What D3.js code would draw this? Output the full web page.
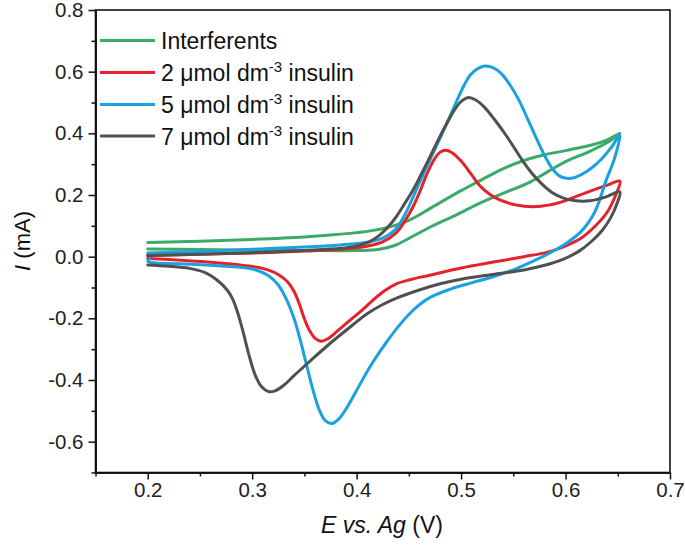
<!DOCTYPE html>
<html><head><meta charset="utf-8">
<script src="https://cdn.jsdelivr.net/npm/d3@7"></script>
<style>body{margin:0;background:#fff}svg{display:block}text{font-family:"Liberation Sans",Arial,sans-serif}</style>
</head><body>
<script>
// ---- data ----
const seriesNames = ["Interferents", "2 μmol dm-3 insulin", "5 μmol dm-3 insulin", "7 μmol dm-3 insulin"];
const seriesColors = ["#3bab6a", "#e3222b", "#1aa2e0", "#505050"];

const interferents = [
 [0.200,0.046],[0.250,0.050],[0.300,0.056],[0.350,0.064],[0.375,0.070],[0.400,0.078],[0.425,0.091],[0.450,0.118],[0.472,0.160],[0.500,0.214],[0.520,0.250],[0.540,0.285],[0.560,0.312],[0.578,0.329],[0.600,0.344],[0.625,0.362],[0.640,0.379],[0.652,0.400],
 [0.640,0.370],[0.620,0.337],[0.603,0.313],[0.585,0.280],[0.566,0.242],[0.540,0.205],[0.518,0.174],[0.495,0.135],[0.471,0.097],[0.452,0.063],[0.437,0.037],[0.422,0.024],[0.400,0.020],[0.350,0.020],[0.300,0.021],[0.250,0.023],[0.200,0.025]
];
const insulin2 = [
 [0.200,0.004],[0.250,0.008],[0.300,0.012],[0.350,0.018],[0.385,0.024],[0.410,0.034],[0.425,0.048],[0.438,0.078],[0.447,0.120],[0.454,0.162],[0.461,0.215],[0.467,0.266],[0.474,0.314],[0.480,0.339],[0.485,0.345],[0.491,0.338],[0.500,0.310],[0.510,0.266],[0.518,0.230],[0.527,0.203],[0.537,0.184],[0.552,0.168],[0.569,0.162],[0.585,0.168],[0.600,0.182],[0.623,0.212],[0.640,0.232],[0.652,0.245],
 [0.648,0.200],[0.640,0.145],[0.628,0.098],[0.614,0.058],[0.598,0.032],[0.582,0.014],[0.560,0.000],[0.534,-0.016],[0.500,-0.037],[0.470,-0.060],[0.452,-0.074],[0.438,-0.088],[0.427,-0.110],[0.416,-0.140],[0.405,-0.174],[0.394,-0.205],[0.382,-0.240],[0.372,-0.267],[0.366,-0.274],[0.360,-0.264],[0.355,-0.240],[0.350,-0.202],[0.345,-0.152],[0.340,-0.112],[0.334,-0.082],[0.326,-0.060],[0.315,-0.043],[0.300,-0.032],[0.260,-0.018],[0.220,-0.009],[0.200,-0.006]
];
const insulin5 = [
 [0.200,0.012],[0.250,0.017],[0.300,0.024],[0.350,0.031],[0.384,0.038],[0.410,0.047],[0.425,0.060],[0.437,0.088],[0.446,0.135],[0.454,0.193],[0.462,0.254],[0.470,0.313],[0.479,0.378],[0.488,0.445],[0.496,0.506],[0.503,0.557],[0.509,0.590],[0.516,0.610],[0.523,0.618],[0.531,0.612],[0.539,0.592],[0.547,0.556],[0.555,0.510],[0.563,0.452],[0.571,0.392],[0.579,0.334],[0.587,0.287],[0.594,0.262],[0.601,0.254],[0.608,0.256],[0.615,0.266],[0.624,0.285],[0.634,0.315],[0.644,0.355],[0.652,0.395],
 [0.647,0.320],[0.639,0.249],[0.628,0.145],[0.615,0.082],[0.600,0.042],[0.585,0.012],[0.570,-0.013],[0.550,-0.043],[0.530,-0.066],[0.510,-0.085],[0.490,-0.105],[0.470,-0.133],[0.456,-0.168],[0.442,-0.218],[0.428,-0.280],[0.415,-0.345],[0.403,-0.415],[0.392,-0.482],[0.383,-0.526],[0.376,-0.541],[0.370,-0.532],[0.364,-0.495],[0.358,-0.430],[0.352,-0.350],[0.346,-0.270],[0.340,-0.200],[0.333,-0.140],[0.325,-0.092],[0.315,-0.060],[0.300,-0.040],[0.270,-0.030],[0.230,-0.023],[0.206,-0.020],[0.200,-0.015],[0.202,-0.007]
];
const insulin7 = [
 [0.200,0.004],[0.250,0.008],[0.300,0.013],[0.350,0.020],[0.385,0.027],[0.400,0.035],[0.412,0.048],[0.422,0.070],[0.430,0.096],[0.438,0.130],[0.446,0.172],[0.454,0.216],[0.462,0.268],[0.470,0.322],[0.478,0.378],[0.486,0.430],[0.494,0.478],[0.501,0.506],[0.507,0.516],[0.514,0.508],[0.522,0.486],[0.532,0.445],[0.544,0.389],[0.552,0.347],[0.560,0.306],[0.568,0.270],[0.577,0.237],[0.587,0.208],[0.598,0.190],[0.610,0.181],[0.623,0.181],[0.638,0.193],[0.652,0.210],
 [0.649,0.170],[0.643,0.125],[0.635,0.085],[0.625,0.050],[0.613,0.018],[0.598,-0.008],[0.580,-0.028],[0.560,-0.043],[0.530,-0.058],[0.500,-0.073],[0.480,-0.088],[0.460,-0.108],[0.440,-0.132],[0.425,-0.155],[0.410,-0.185],[0.395,-0.225],[0.375,-0.280],[0.355,-0.340],[0.340,-0.386],[0.330,-0.418],[0.322,-0.435],[0.316,-0.438],[0.309,-0.422],[0.303,-0.385],[0.297,-0.320],[0.291,-0.240],[0.286,-0.180],[0.281,-0.135],[0.276,-0.108],[0.266,-0.075],[0.255,-0.052],[0.240,-0.038],[0.220,-0.031],[0.200,-0.027]
];
const allSeries = [interferents, insulin2, insulin5, insulin7];

const xMajorTicks = [0.2, 0.3, 0.4, 0.5, 0.6, 0.7];
const xMinorTicks = [0.15, 0.25, 0.35, 0.45, 0.55, 0.65];
const yMajorTicks = [-0.6, -0.4, -0.2, 0.0, 0.2, 0.4, 0.6, 0.8];
const yMinorTicks = [-0.7, -0.5, -0.3, -0.1, 0.1, 0.3, 0.5, 0.7];

// ---- layout ----
const W = 685, H = 548;
const L = 95.5, R = 670, T = 10, B = 472.5;
const svg = d3.select("body").append("svg").attr("width", W).attr("height", H);
const x = d3.scaleLinear().domain([0.15, 0.7]).range([L, R]);
const y = d3.scaleLinear().domain([-0.7, 0.8]).range([B, T]);

// frame
svg.append("rect").attr("x", L).attr("y", T).attr("width", R - L).attr("height", B - T)
  .attr("fill", "none").attr("stroke", "#111").attr("stroke-width", 1.6);

const fmt = v => d3.format(".1f")(v).replace("−", "-");

// x axis
const gx = svg.append("g").attr("transform", `translate(0,${B})`)
  .call(d3.axisBottom(x).tickValues(xMajorTicks).tickFormat(fmt).tickSize(7).tickSizeOuter(0));
svg.append("g").attr("transform", `translate(0,${B})`)
  .call(d3.axisBottom(x).tickValues(xMinorTicks).tickFormat("").tickSize(4).tickSizeOuter(0));
// y axis
const gy = svg.append("g").attr("transform", `translate(${L},0)`)
  .call(d3.axisLeft(y).tickValues(yMajorTicks).tickFormat(fmt).tickSize(7).tickSizeOuter(0));
svg.append("g").attr("transform", `translate(${L},0)`)
  .call(d3.axisLeft(y).tickValues(yMinorTicks).tickFormat("").tickSize(4).tickSizeOuter(0));

svg.selectAll(".domain").attr("stroke", "#111").attr("stroke-width", 1.6);
svg.selectAll(".tick line").attr("stroke", "#111").attr("stroke-width", 1.5);
gx.selectAll(".tick text").attr("font-size", 20.5).attr("fill", "#222").attr("y", 10).attr("dy", "0.71em");
gy.selectAll(".tick text").attr("font-size", 20.5).attr("fill", "#222").attr("x", -12);

// curves
const line = d3.line().x(d => x(d[0])).y(d => y(d[1])).curve(d3.curveCatmullRom.alpha(0.5));
allSeries.forEach((s, i) => {
  svg.append("path").attr("d", line(s)).attr("fill", "none")
    .attr("stroke", seriesColors[i]).attr("stroke-width", 3)
    .attr("stroke-linejoin", "round").attr("stroke-linecap", "round");
});

// legend
const legY = [40.5, 72.5, 104.5, 136];
seriesNames.forEach((n, i) => {
  const g = svg.append("g");
  g.append("line").attr("x1", 100).attr("x2", 155).attr("y1", legY[i]).attr("y2", legY[i])
    .attr("stroke", seriesColors[i]).attr("stroke-width", 3.2);
  const t = g.append("text").attr("x", 161).attr("y", legY[i] + 8.5).attr("font-size", 23).attr("fill", "#111");
  if (i === 0) { t.text(n); }
  else {
    const parts = n.split("dm-3");
    t.append("tspan").text(parts[0] + "dm");
    t.append("tspan").attr("dy", -9).attr("font-size", 15).text("-3");
    t.append("tspan").attr("dy", 9).text(parts[1]);
  }
});

// axis titles
const yt = svg.append("text").attr("transform", `translate(30,241) rotate(-90)`)
  .attr("text-anchor", "middle").attr("font-size", 22).attr("fill", "#111");
yt.append("tspan").attr("font-style", "italic").text("I");
yt.append("tspan").text(" (mA)");

const xt = svg.append("text").attr("x", 382).attr("y", 533)
  .attr("text-anchor", "middle").attr("font-size", 23).attr("fill", "#111");
xt.append("tspan").attr("font-style", "italic").text("E vs. Ag");
xt.append("tspan").text(" (V)");
</script>
</body></html>
